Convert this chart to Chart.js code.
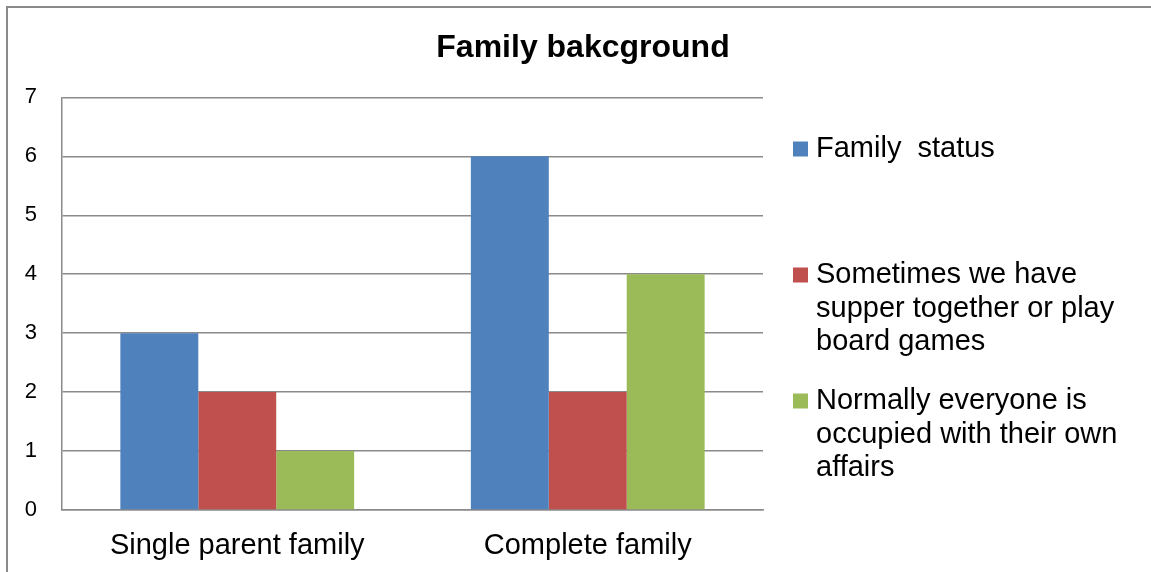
<!DOCTYPE html>
<html>
<head>
<meta charset="utf-8">
<title>Family bakcground</title>
<script src="https://cdn.jsdelivr.net/npm/chart.js@4"></script>
<style>
  html, body { margin: 0; padding: 0; background: #fff; }
</style>
</head>
<body>
<canvas id="bars" width="1151" height="572"></canvas>
<script>
// chart data
var categories = ['Single parent family', 'Complete family'];
var seriesNames = [
    'Family  status',
    'Sometimes we have supper together or play board games',
    'Normally everyone is occupied with their own affairs'
];
var familyStatus = [3, 6];
var supperTogether = [2, 2];
var ownAffairs = [1, 4];
var yTicks = [0, 1, 2, 3, 4, 5, 6, 7];

var FONT = '"Liberation Sans", Arial, sans-serif';
var GRID = '#8a8a8a';

// split a legend label into lines that fit maxWidth
function wrapText(ctx, text, maxWidth) {
    var words = text.split(' ');
    var lines = [];
    var line = '';
    words.forEach(function (w) {
        var test = line === '' ? w : line + ' ' + w;
        if (line !== '' && w !== '' && ctx.measureText(test).width > maxWidth) {
            lines.push(line);
            line = w;
        } else {
            line = test;
        }
    });
    lines.push(line);
    return lines;
}

// grey frame round the whole chart
var frame = {
    id: 'frame',
    beforeDraw: function (chart) {
        var ctx = chart.ctx;
        ctx.save();
        ctx.fillStyle = '#fff';
        ctx.fillRect(0, 0, chart.width, chart.height);
        ctx.strokeStyle = GRID;
        ctx.lineWidth = 2;
        ctx.strokeRect(7, 7, chart.width + 20, chart.height + 20);
        ctx.restore();
    }
};

// legend on the right, with wrapped labels
var sideLegend = {
    id: 'sideLegend',
    afterDraw: function (chart) {
        var ctx = chart.ctx;
        var x = chart.chartArea.right + 30;
        var y = 149;
        ctx.save();
        ctx.font = '29px ' + FONT;
        ctx.textBaseline = 'middle';
        ctx.textAlign = 'left';
        chart.data.datasets.forEach(function (ds) {
            var lines = wrapText(ctx, ds.label, 330);
            ctx.fillStyle = ds.backgroundColor;
            ctx.fillRect(x, y - 7.5, 15, 15);
            ctx.fillStyle = '#000';
            lines.forEach(function (line, i) {
                ctx.fillText(line, x + 23, y + i * 33.5);
            });
            y += 126;
        });
        ctx.restore();
    }
};

var ctx = document.getElementById('bars').getContext('2d');
var myChart = new Chart(ctx, {
    type: 'bar',
    data: {
        labels: categories,
        datasets: [{
            label: seriesNames[0],
            data: familyStatus,
            backgroundColor: '#4F81BD'
        }, {
            label: seriesNames[1],
            data: supperTogether,
            backgroundColor: '#C0504D'
        }, {
            label: seriesNames[2],
            data: ownAffairs,
            backgroundColor: '#9BBB59'
        }]
    },
    options: {
        responsive: false,
        animation: false,
        devicePixelRatio: 1,
        layout: {
            padding: { left: 16, right: 1, top: 10, bottom: 11 }
        },
        datasets: {
            bar: {
                categoryPercentage: 0.667,
                barPercentage: 1,
                borderWidth: 0
            }
        },
        scales: {
            x: {
                afterFit: function (axis) { axis.height = 51; },
                grid: { display: false, drawTicks: false },
                border: { display: true, color: GRID, width: 1.5 },
                ticks: {
                    color: '#000',
                    font: { family: FONT, size: 29 },
                    padding: 19,
                    maxRotation: 0
                }
            },
            y: {
                min: 0,
                max: 7,
                afterBuildTicks: function (axis) {
                    axis.ticks = yTicks.map(function (v) { return { value: v }; });
                },
                afterFit: function (axis) { axis.width = 46; },
                grid: { color: GRID, lineWidth: 1.5, drawTicks: false },
                border: { display: true, color: GRID, width: 1.5 },
                ticks: {
                    color: '#000',
                    font: { family: FONT, size: 22 },
                    padding: 25
                }
            },
            // empty axis that keeps room for the legend
            side: {
                position: 'right',
                grid: { display: false, drawTicks: false },
                border: { display: false },
                ticks: { display: false },
                afterFit: function (axis) { axis.width = 387; }
            }
        },
        plugins: {
            legend: { display: false },
            tooltip: { enabled: false },
            title: {
                display: true,
                text: 'Family bakcground',
                color: '#000',
                font: { family: FONT, size: 32, weight: 'bold' },
                padding: { top: 19, bottom: 30 }
            }
        }
    },
    plugins: [frame, sideLegend]
});
</script>
</body>
</html>
